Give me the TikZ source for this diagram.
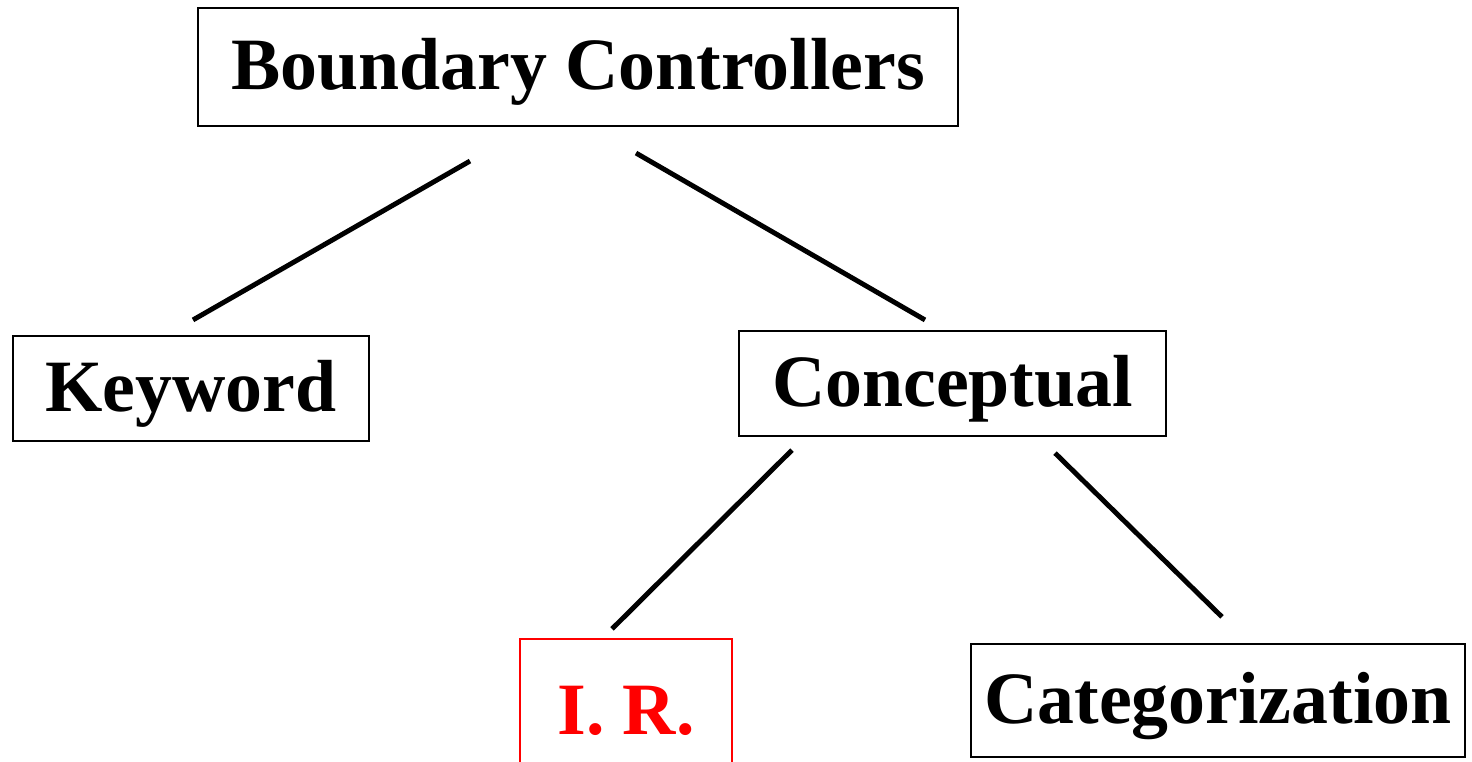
\documentclass[tikz,border=0pt]{standalone}
\usepackage{fontspec}
\setmainfont{Liberation Serif}
\usepackage{xcolor}
\usepackage{tikz}
\usetikzlibrary{positioning, calc}
\definecolor{irred}{RGB}{255,0,0}

\begin{document}
\begin{tikzpicture}[
    box/.style={rectangle, draw, line width=0.6pt, inner sep=0pt, text height=15pt, text depth=2pt, font=\fontsize{21}{25}\selectfont\bfseries},
    link/.style={line width=1.4pt}
]
\useasboundingbox (0,0) rectangle (14.72,7.62);

% Top
\node[box, minimum width=7.60cm, minimum height=1.18cm] (bc) at (5.78,6.95) {Boundary Controllers};

% Level 2
\node[box, minimum width=3.56cm, minimum height=1.05cm] (kw) at (1.91,3.735) {Keyword};
\node[box, minimum width=4.27cm, minimum height=1.05cm] (cp) at (9.525,3.785) {Conceptual};

% Level 3
\node[box, draw=irred, text=irred, minimum width=2.12cm, minimum height=1.45cm] (ir) at (6.26,0.505) {I. R.};
\node[box, minimum width=4.94cm, minimum height=1.13cm] (cat) at (12.18,0.615) {Categorization};

% Line ends
\coordinate (bc-l) at ($(bc.south)+(-1.08,-0.34)$);
\coordinate (bc-r) at ($(bc.south)+(0.58,-0.26)$);
\coordinate (kw-t) at ($(kw.north)+(0.02,0.15)$);
\coordinate (cp-t) at ($(cp.north)+(-0.275,0.10)$);
\coordinate (cp-l) at ($(cp.south)+(-1.605,-0.13)$);
\coordinate (cp-r) at ($(cp.south)+(1.025,-0.16)$);
\coordinate (ir-t) at ($(ir.north)+(-0.14,0.09)$);
\coordinate (cat-t) at ($(cat.north)+(0.04,0.26)$);

% Lines
\draw[link] (bc-l) -- (kw-t);
\draw[link] (bc-r) -- (cp-t);
\draw[link] (cp-l) -- (ir-t);
\draw[link] (cp-r) -- (cat-t);

\end{tikzpicture}
\end{document}
